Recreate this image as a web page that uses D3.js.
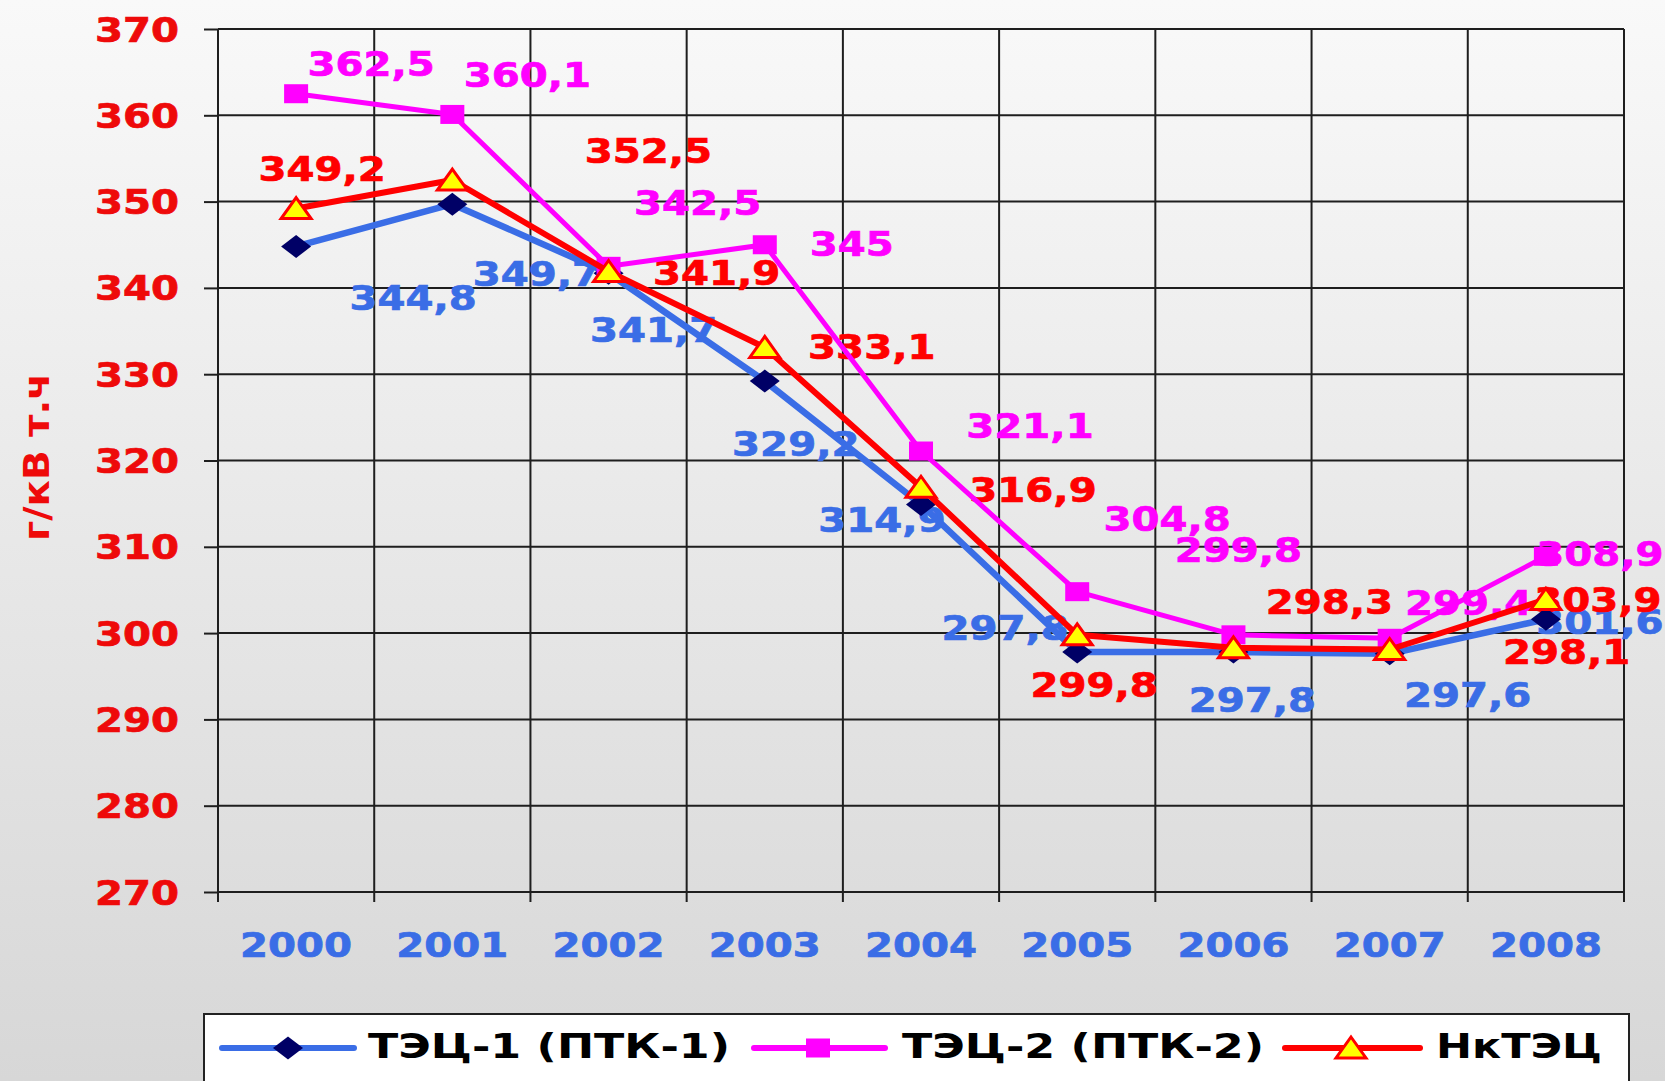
<!DOCTYPE html>
<html><head><meta charset="utf-8">
<script src="https://cdn.jsdelivr.net/npm/d3@7/dist/d3.min.js"></script>
<style>
html,body{margin:0;padding:0;overflow:hidden;background:#e8e8e8;}
svg{display:block;}
</style></head><body>
<svg id="chart" width="1665" height="1081"></svg>
<script>
// ---------- data ----------
const years = ["2000","2001","2002","2003","2004","2005","2006","2007","2008"];
const tec1Values  = [344.8, 349.7, 341.7, 329.2, 314.9, 297.8, 297.8, 297.6, 301.6];
const tec2Values  = [362.5, 360.1, 342.5, 345, 321.1, 304.8, 299.8, 299.4, 308.9];
const nktecValues = [349.2, 352.5, 341.9, 333.1, 316.9, 299.8, 298.3, 298.1, 303.9];
const yTickValues = [270, 280, 290, 300, 310, 320, 330, 340, 350, 360, 370];
const seriesNames = ["ТЭЦ-1 (ПТК-1)", "ТЭЦ-2 (ПТК-2)", "НкТЭЦ"];
const yAxisTitle = "г/кВ т.ч";

// ---------- layout (label nudges in px, as placed in the original) ----------
const nudgeTec1  = [[117,51],[84,70],[45,57],[31,63],[-39,15],[-72,-24],[19,48],[78,41],[54,3]];
const nudgeTec2  = [[75,-30],[75,-39],[89,-63],[87,-1],[109,-25],[90,-73],[5,-85],[79,-35],[54,-2]];
const nudgeNktec = [[26,-40],[196,-29],[108,1],[107,0],[112,3],[17,50],[96,-46],[177,2],[52,1]];

const W = 1665, H = 1081;
const plot = {left: 218, right: 1624, top: 29, bottom: 892};
const FONT = "'DejaVu Sans', sans-serif";
const SX = 1.22; // horizontal stretch of the original lettering

const svg = d3.select("#chart");
const defs = svg.append("defs");
const grad = defs.append("linearGradient").attr("id","bg").attr("x1",0).attr("y1",0).attr("x2",0).attr("y2",1);
grad.append("stop").attr("offset","0%").attr("stop-color","#f9f9f9");
grad.append("stop").attr("offset","100%").attr("stop-color","#d7d7d7");
svg.append("rect").attr("width",W).attr("height",H).attr("fill","url(#bg)");

const x = d3.scaleBand().domain(years).range([plot.left, plot.right]);
const y = d3.scaleLinear().domain([270, 370]).range([plot.bottom, plot.top]);
const cx = d => x(d) + x.bandwidth()/2;

// horizontal grid
svg.append("g").selectAll("line").data(yTickValues).join("line")
  .attr("x1", plot.left).attr("x2", plot.right)
  .attr("y1", d => y(d)).attr("y2", d => y(d))
  .attr("stroke", "#1e1e1e").attr("stroke-width", 2);

// vertical grid at category boundaries (+ tick marks below)
const bounds = years.map(d => x(d)).concat([plot.right]);
svg.append("g").selectAll("line").data(bounds).join("line")
  .attr("x1", d => d).attr("x2", d => d)
  .attr("y1", plot.top).attr("y2", plot.bottom + 10)
  .attr("stroke", "#1e1e1e").attr("stroke-width", 2);

// y axis
const gy = svg.append("g").attr("transform", `translate(${plot.left},0)`)
  .call(d3.axisLeft(y).tickValues(yTickValues).tickSize(14).tickPadding(25).tickFormat(d3.format("d")));
gy.select(".domain").remove();
gy.selectAll(".tick line").attr("stroke","#1e1e1e").attr("stroke-width",2);
gy.selectAll(".tick text")
  .attr("x", -39 / SX).attr("dy","0.365em").attr("transform", `scale(${SX},1)`)
  .style("font-family", FONT).style("font-weight","bold").style("font-size","33px")
  .attr("fill", "#ee0a0a").attr("stroke", "#ee0a0a").attr("stroke-width", 0.7);

// x axis labels
const gx = svg.append("g").attr("transform", `translate(0,${plot.bottom})`)
  .call(d3.axisBottom(x).tickSize(0).tickPadding(0));
gx.select(".domain").remove();
gx.selectAll(".tick text")
  .attr("y", 53).attr("dy","0.365em").attr("transform", `scale(${SX},1)`)
  .style("font-family", FONT).style("font-weight","bold").style("font-size","33px")
  .attr("fill", "#3a6de6").attr("stroke", "#3a6de6").attr("stroke-width", 0.7);

// y title
svg.append("text")
  .attr("transform", `translate(49,457) scale(1.2,1) rotate(-90)`)
  .attr("text-anchor","middle")
  .attr("textLength", 168).attr("lengthAdjust","spacingAndGlyphs")
  .style("font-family", FONT).style("font-weight","bold").style("font-size","30px")
  .attr("fill", "#ee0a0a")
  .text(yAxisTitle);

// series
const series = [
  {name: seriesNames[0], values: tec1Values, nudges: nudgeTec1, color: "#3a6de6", width: 6.5, marker: "diamond", label: "#3a6de6"},
  {name: seriesNames[1], values: tec2Values, nudges: nudgeTec2, color: "#ff00ff", width: 5, marker: "square", label: "#ff00ff"},
  {name: seriesNames[2], values: nktecValues, nudges: nudgeNktec, color: "#ff0000", width: 6, marker: "triangle", label: "#ff0000"}
];

function drawMarker(g, type) {
  if (type === "diamond") {
    g.append("path").attr("d","M0,-11.5L15,0L0,11.5L-15,0Z").attr("fill","#000066");
  } else if (type === "square") {
    g.append("rect").attr("x",-12).attr("y",-9.5).attr("width",24).attr("height",19).attr("fill","#ff00ff");
  } else {
    g.append("path").attr("d","M0,-11L15,10L-15,10Z").attr("fill","#ffff00")
      .attr("stroke","#ff0000").attr("stroke-width",3).attr("stroke-linejoin","miter");
  }
}

const fmt = v => String(v).replace(".", ",");

// data labels (beneath lines, as in the original)
series.forEach(s => {
  svg.append("g").selectAll("text").data(s.values).join("text")
    .attr("transform", (d,i) => `translate(${cx(years[i]) + s.nudges[i][0]},${y(d) + s.nudges[i][1]}) scale(${SX},1)`)
    .attr("text-anchor","middle").attr("dy","0.365em")
    .style("font-family", FONT).style("font-weight","bold").style("font-size","33px")
    .attr("fill", s.label).attr("stroke", s.label).attr("stroke-width", 0.7)
    .text(d => fmt(d));
});

// lines + markers
const lineGen = d3.line().x((d,i) => cx(years[i])).y(d => y(d));
series.forEach(s => {
  svg.append("path").datum(s.values).attr("d", lineGen)
    .attr("fill","none").attr("stroke", s.color).attr("stroke-width", s.width)
    .attr("stroke-linejoin","round").attr("stroke-linecap","round");
  svg.append("g").selectAll("g").data(s.values).join("g")
    .attr("transform", (d,i) => `translate(${cx(years[i])},${y(d)})`)
    .each(function(){ drawMarker(d3.select(this), s.marker); });
});

// legend
const legend = svg.append("g");
legend.append("rect").attr("x",204).attr("y",1014).attr("width",1425).attr("height",100)
  .attr("fill","#ffffff").attr("stroke","#222").attr("stroke-width",2);
const legendItems = [
  {x0: 222, x1: 354, mx: 288, tx: 368, tl: 362},
  {x0: 754, x1: 885, mx: 818, tx: 902, tl: 362},
  {x0: 1285, x1: 1420, mx: 1351, tx: 1436, tl: 166}
];
series.forEach((s, i) => {
  const it = legendItems[i];
  legend.append("line").attr("x1", it.x0).attr("x2", it.x1).attr("y1", 1048).attr("y2", 1048)
    .attr("stroke", s.color).attr("stroke-width", 6).attr("stroke-linecap","round");
  const mg = legend.append("g").attr("transform", `translate(${it.mx},1048)`);
  drawMarker(mg, s.marker);
  legend.append("text").attr("x", it.tx).attr("y", 1058)
    .attr("textLength", it.tl).attr("lengthAdjust","spacingAndGlyphs")
    .style("font-family", FONT).style("font-weight","bold").style("font-size","33px")
    .attr("fill", "#000").text(s.name);
});
</script>
</body></html>
